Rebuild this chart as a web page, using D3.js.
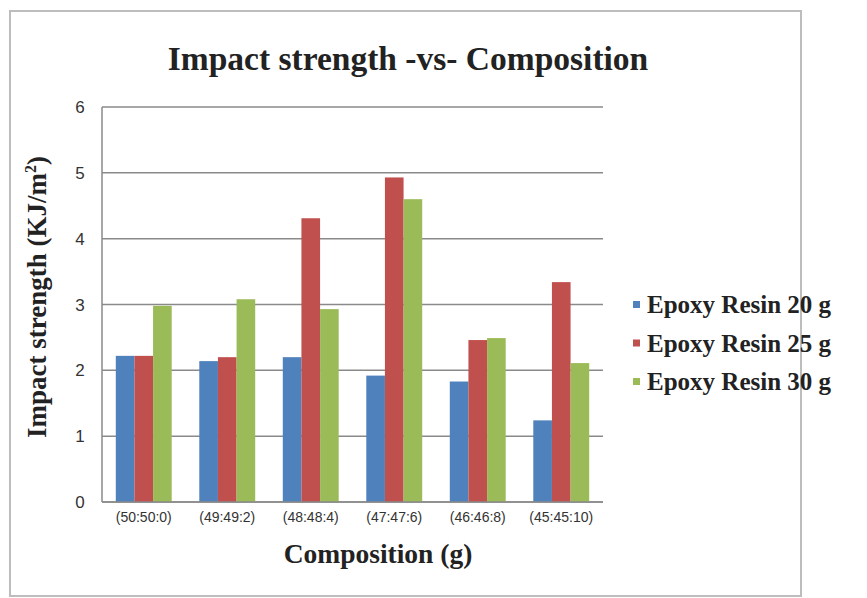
<!DOCTYPE html>
<html>
<head>
<meta charset="utf-8">
<script src="https://cdn.jsdelivr.net/npm/d3@7"></script>
<style>
  html, body { margin: 0; padding: 0; background: #fff; }
  svg { display: block; }
</style>
</head>
<body>
<svg id="chart" width="867" height="598"></svg>
<script>
// Impact strength of epoxy composites by composition
const categories = ["(50:50:0)", "(49:49:2)", "(48:48:4)", "(47:47:6)", "(46:46:8)", "(45:45:10)"];
const seriesNames = ["Epoxy Resin 20 g", "Epoxy Resin 25 g", "Epoxy Resin 30 g"];
const resin20 = [2.22, 2.14, 2.20, 1.92, 1.83, 1.24];
const resin25 = [2.22, 2.20, 4.31, 4.93, 2.46, 3.34];
const resin30 = [2.98, 3.08, 2.93, 4.60, 2.49, 2.11];
const yTicks = [0, 1, 2, 3, 4, 5, 6];
const colors = ["#4F81BD", "#C0504D", "#9BBB59"];

const seriesValues = [resin20, resin25, resin30];
const serif = "'Liberation Serif', 'Times New Roman', serif";
const sans = "'Liberation Sans Narrow', 'Liberation Sans', Arial, sans-serif";

const svg = d3.select("#chart");

// outer chart frame
svg.append("rect")
  .attr("x", 10).attr("y", 11)
  .attr("width", 791).attr("height", 585)
  .attr("fill", "#fff")
  .attr("stroke", "#bdbdbd")
  .attr("stroke-width", 2);

const plot = { left: 102, right: 603, top: 107, bottom: 502 };

const x0 = d3.scaleBand()
  .domain(categories)
  .range([plot.left, plot.right])
  .paddingInner(0)
  .paddingOuter(0);

// three bars per category with a wide gap between groups
const x1 = d3.scaleBand()
  .domain(d3.range(seriesNames.length))
  .range([0, x0.bandwidth()])
  .paddingInner(0)
  .paddingOuter(0.74);

const y = d3.scaleLinear().domain([0, 6]).range([plot.bottom, plot.top]);

// horizontal gridlines
svg.append("g")
  .selectAll("line")
  .data(yTicks)
  .join("line")
  .attr("x1", plot.left).attr("x2", plot.right)
  .attr("y1", d => y(d)).attr("y2", d => y(d))
  .attr("stroke", "#8a8a8a")
  .attr("stroke-width", 1.5);

// left axis line
svg.append("line")
  .attr("x1", plot.left).attr("x2", plot.left)
  .attr("y1", plot.top).attr("y2", plot.bottom)
  .attr("stroke", "#8a8a8a")
  .attr("stroke-width", 1.5);

// bars
const groups = svg.append("g")
  .selectAll("g")
  .data(categories)
  .join("g")
  .attr("transform", d => `translate(${x0(d)},0)`);

groups.selectAll("rect")
  .data((d, i) => seriesValues.map((vals, s) => ({ s, v: vals[i] })))
  .join("rect")
  .attr("x", d => x1(d.s))
  .attr("width", x1.bandwidth())
  .attr("y", d => y(d.v))
  .attr("height", d => y(0) - y(d.v))
  .attr("fill", d => colors[d.s]);

// bottom axis line drawn over bar bases
svg.append("line")
  .attr("x1", plot.left).attr("x2", plot.right)
  .attr("y1", y(0)).attr("y2", y(0))
  .attr("stroke", "#8a8a8a")
  .attr("stroke-width", 1.5);

// y tick labels
svg.append("g")
  .selectAll("text")
  .data(yTicks)
  .join("text")
  .attr("x", 80)
  .attr("y", d => y(d) + 6)
  .attr("text-anchor", "middle")
  .attr("font-family", sans)
  .attr("font-size", 17)
  .attr("fill", "#333")
  .text(d => d);

// x tick labels
svg.append("g")
  .selectAll("text")
  .data(categories)
  .join("text")
  .attr("x", d => x0(d) + x0.bandwidth() / 2)
  .attr("y", 522)
  .attr("text-anchor", "middle")
  .attr("font-family", sans)
  .attr("font-size", 14)
  .attr("fill", "#333")
  .text(d => d);

// title
svg.append("text")
  .attr("x", 408).attr("y", 70)
  .attr("text-anchor", "middle")
  .attr("font-family", serif)
  .attr("font-weight", "bold")
  .attr("font-size", 33.5)
  .attr("fill", "#222")
  .text("Impact strength -vs- Composition");

// x axis title
svg.append("text")
  .attr("x", 378).attr("y", 563)
  .attr("text-anchor", "middle")
  .attr("font-family", serif)
  .attr("font-weight", "bold")
  .attr("font-size", 27.5)
  .attr("fill", "#222")
  .text("Composition (g)");

// y axis title
const yTitle = svg.append("text")
  .attr("transform", "translate(46,297) rotate(-90)")
  .attr("text-anchor", "middle")
  .attr("font-family", serif)
  .attr("font-weight", "bold")
  .attr("font-size", 27)
  .attr("fill", "#222");
yTitle.append("tspan").text("Impact strength (KJ/m");
yTitle.append("tspan").attr("font-size", 16).attr("dy", -10).text("2");
yTitle.append("tspan").attr("dy", 10).text(")");

// legend
const legend = svg.append("g")
  .selectAll("g")
  .data(seriesNames)
  .join("g")
  .attr("transform", (d, i) => `translate(633,${313 + i * 38.5})`);

legend.append("rect")
  .attr("x", 0).attr("y", -12)
  .attr("width", 7).attr("height", 7)
  .attr("fill", (d, i) => colors[i]);

legend.append("text")
  .attr("x", 14).attr("y", 0)
  .attr("font-family", serif)
  .attr("font-weight", "bold")
  .attr("font-size", 25)
  .attr("fill", "#222")
  .text(d => d);
</script>
</body>
</html>
